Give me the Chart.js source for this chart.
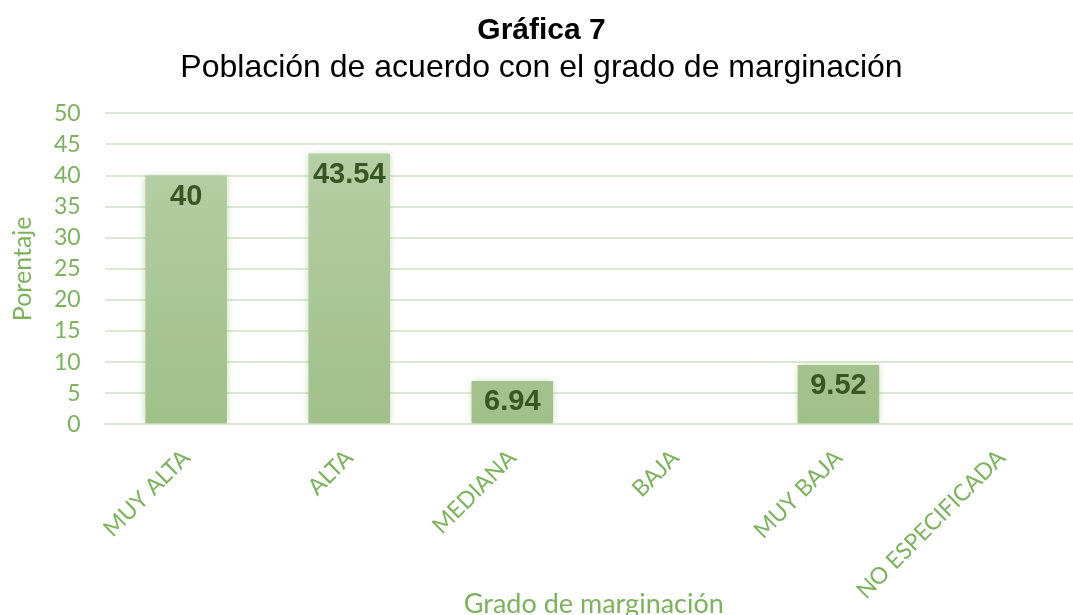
<!DOCTYPE html>
<html>
<head>
<meta charset="utf-8">
<script src="https://cdn.jsdelivr.net/npm/chart.js@4"></script>
<style>
  html, body { margin: 0; padding: 0; background: #fff; overflow: hidden; }
  #wrap { width: 1090px; height: 620px; }
</style>
</head>
<body>
<div id="wrap"><canvas id="chartCanvas"></canvas></div>
<script>
// chart data
const categories = ['MUY ALTA', 'ALTA', 'MEDIANA', 'BAJA', 'MUY BAJA', 'NO ESPECIFICADA'];
const percentValues = [40, 43.54, 6.94, 0, 9.52, 0];
const yTicks = [0, 5, 10, 15, 20, 25, 30, 35, 40, 45, 50];

const titleText = 'Gráfica 7';
const subtitleText = 'Población de acuerdo con el grado de marginación';
const yAxisTitle = 'Porentaje';
const xAxisTitle = 'Grado de marginación';

const tickGreen = '#7bb35a';
const gridGreen = '#dbe8d3';
const labelGreen = '#375623';

const ctx = document.getElementById('chartCanvas').getContext('2d');

function barGradient(context) {
    const area = context.chart.chartArea;
    if (!area) return '#abc898';
    const g = context.chart.ctx.createLinearGradient(0, area.top, 0, area.bottom);
    g.addColorStop(0, '#b7d1a7');
    g.addColorStop(1, '#a0bf8a');
    return g;
}

// soft glow round bars, like the office chart
const glowPlugin = {
    id: 'glow',
    beforeDatasetDraw(chart) {
        chart.ctx.save();
        chart.ctx.shadowColor = 'rgba(140, 185, 110, 0.55)';
        chart.ctx.shadowBlur = 7;
    },
    afterDatasetDraw(chart) {
        chart.ctx.restore();
    }
};

// value labels inside the top of each bar
const valueLabels = {
    id: 'valueLabels',
    afterDatasetsDraw(chart) {
        const c = chart.ctx;
        const meta = chart.getDatasetMeta(0);
        c.save();
        c.font = 'bold 29px "Liberation Sans", Arial, sans-serif';
        c.fillStyle = labelGreen;
        c.textAlign = 'center';
        c.textBaseline = 'middle';
        meta.data.forEach((bar, i) => {
            const v = percentValues[i];
            if (!v) return;
            c.fillText(String(v), bar.x, bar.y + 21);
        });
        c.restore();
    }
};

new Chart(ctx, {
    type: 'bar',
    data: {
        labels: categories,
        datasets: [{
            data: percentValues,
            backgroundColor: barGradient,
            borderWidth: 0,
            categoryPercentage: 1,
            barPercentage: 0.5
        }]
    },
    options: {
        responsive: true,
        maintainAspectRatio: false,
        animation: false,
        layout: { padding: { left: 0, right: 7, top: 0, bottom: 0 } },
        plugins: {
            legend: { display: false },
            tooltip: { enabled: false },
            title: {
                display: true,
                text: titleText,
                color: '#000',
                font: { family: '"Liberation Sans", Arial, sans-serif', size: 30, weight: 'bold' },
                padding: { top: 13, bottom: 0 }
            },
            subtitle: {
                display: true,
                text: subtitleText,
                color: '#000',
                font: { family: '"Liberation Sans", Arial, sans-serif', size: 32 },
                padding: { top: 0, bottom: 26 }
            }
        },
        scales: {
            x: {
                grid: { display: false, drawTicks: false },
                border: { color: gridGreen, width: 2 },
                ticks: {
                    color: tickGreen,
                    font: { family: 'Lato, "Open Sans", sans-serif', size: 23 },
                    minRotation: 45,
                    maxRotation: 45,
                    autoSkip: false,
                    padding: 20
                },
                title: {
                    display: true,
                    text: xAxisTitle,
                    color: tickGreen,
                    font: { family: 'Lato, "Open Sans", sans-serif', size: 27 },
                    padding: { top: -37, bottom: 0 }
                }
            },
            y: {
                min: 0,
                max: 50,
                afterBuildTicks(scale) {
                    scale.ticks = yTicks.map(v => ({ value: v }));
                },
                grid: { color: gridGreen, lineWidth: 2, drawTicks: false },
                border: { display: false },
                ticks: {
                    color: tickGreen,
                    font: { family: 'Lato, "Open Sans", sans-serif', size: 23 },
                    autoSkip: false,
                    padding: 24
                },
                title: {
                    display: true,
                    text: yAxisTitle,
                    color: tickGreen,
                    font: { family: 'Lato, "Open Sans", sans-serif', size: 25 },
                    padding: { top: 8, bottom: -8 }
                }
            }
        }
    },
    plugins: [glowPlugin, valueLabels]
});
</script>
</body>
</html>
